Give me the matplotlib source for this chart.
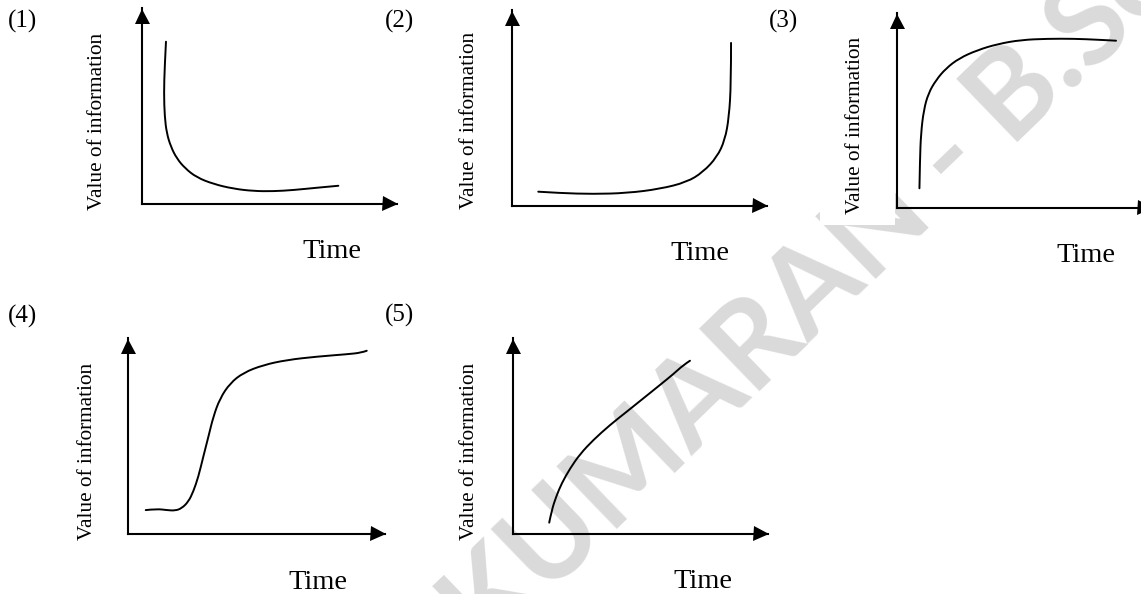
import matplotlib
matplotlib.use('Agg')
import matplotlib.pyplot as plt
from matplotlib.transforms import offset_copy
from matplotlib.patches import Rectangle, PathPatch
from matplotlib.path import Path

# ---------------- data (time, value) in % of axis length ----------------
panel_labels = ['(1)', '(2)', '(3)', '(4)', '(5)']
x_label = 'Time'
y_label = 'Value of information'
watermark_a = 'KUMARAN - B.'
watermark_b = 'Sc'

curve1_t = [9.4, 8.9, 8.6, 8.9, 9.7, 11.3, 13.6, 16.9, 21.4, 28.0, 35.8, 43.7, 51.5, 59.3, 68.5, 77.0]
curve1_v = [82.8, 70.1, 56.5, 44.6, 36.1, 29.3, 23.3, 18.2, 13.6, 10.2, 7.8, 6.6, 6.5, 7.1, 8.3, 9.3]

curve2_t = [10.3, 18.8, 31.8, 45.1, 58.0, 68.6, 74.9, 80.4, 83.5, 85.1, 85.9, 85.9]
curve2_v = [7.3, 6.6, 6.1, 6.6, 8.7, 12.2, 17.3, 25.0, 33.7, 45.4, 62.8, 83.2]

curve3_t = [8.8, 9.0, 9.4, 10.5, 12.3, 15.3, 19.2, 24.4, 31.6, 39.5, 48.6, 59.1, 69.5, 78.7, 85.9]
curve3_v = [10.1, 24.6, 38.3, 50.3, 58.8, 65.6, 71.6, 76.8, 81.0, 84.1, 86.2, 86.8, 86.8, 86.3, 85.8]

curve4_t = [6.9, 11.2, 15.1, 18.3, 20.9, 23.5, 25.4, 27.4, 29.3, 31.3, 33.2, 35.8, 39.7, 44.9,
            52.6, 61.8, 73.4, 85.1, 90.9, 92.9]
curve4_v = [12.2, 12.8, 12.2, 11.9, 13.1, 16.5, 21.6, 29.3, 39.5, 49.7, 59.9, 69.2, 76.9, 82.3,
            86.2, 88.8, 90.5, 91.7, 92.5, 93.5]

curve5_t = [14.2, 15.2, 16.9, 19.1, 22.4, 26.3, 31.5, 38.0, 44.6, 51.1, 57.6, 62.9, 66.8, 69.4]
curve5_v = [5.8, 12.2, 19.0, 25.9, 33.5, 40.8, 48.0, 55.6, 62.4, 69.2, 76.0, 81.6, 86.2, 88.4]

curves = [(curve1_t, curve1_v), (curve2_t, curve2_v), (curve3_t, curve3_v),
          (curve4_t, curve4_v), (curve5_t, curve5_v)]

# ---------------- layout (pixels, origin top-left) ----------------
W, H = 1141, 594
# corner x, corner y, x-arrow tip, y-arrow tip
axes_px = [(142, 204, 397, 8), (512, 206, 767, 10), (897, 208, 1152, 13),
           (128, 534, 385, 338), (513, 534, 768, 338)]
num_px = [(8, 28), (385, 28), (769, 28), (8, 323), (385, 322)]
time_px = [(302, 258), (670, 260), (1056, 262), (288, 589), (673, 588)]
ylab_px = [(98, 121), (470, 120), (855, 125), (87, 451), (470, 451)]

SERIF = ['Liberation Serif', 'DejaVu Serif']
fig = plt.figure(figsize=(W / 100, H / 100), dpi=100)
fig.patch.set_facecolor('white')


def fx(x):
    return x / W


def fy(y):
    return 1 - y / H


def smooth_path(t, v):
    """Quadratic B-spline style path with the read points as control points."""
    pts = list(zip(t, v))
    verts = [pts[0]]
    codes = [Path.MOVETO]
    for i in range(1, len(pts) - 1):
        if i < len(pts) - 2:
            end = ((pts[i][0] + pts[i + 1][0]) / 2, (pts[i][1] + pts[i + 1][1]) / 2)
        else:
            end = pts[i + 1]
        verts += [pts[i], end]
        codes += [Path.CURVE3, Path.CURVE3]
    return Path(verts, codes)


# watermark
wm_kw = dict(rotation=44, rotation_mode='anchor', va='baseline', fontsize=87,
             fontweight='bold', color='#dadada', family=['Lato', 'DejaVu Sans'], zorder=-10)
fig.text(fx(1089), fy(73), watermark_a, ha='right', **wm_kw)
fig.text(fx(1089), fy(73), watermark_b, ha='left', **wm_kw)

# white text-box behind the third y label
fig.patches.append(Rectangle((fx(820), fy(225)), 75 / W, 205 / H, transform=fig.transFigure,
                             facecolor='white', edgecolor='none', zorder=-5))

ARROW = 15  # px
for i, ((x0, y0, xt, yt), (t, v)) in enumerate(zip(axes_px, curves)):
    ax = fig.add_axes([fx(x0), fy(y0), (xt - x0) / W, (y0 - yt) / H])
    ax.set_xlim(0, 100)
    ax.set_ylim(0, 100)
    ax.set_facecolor('none')
    for s in ('top', 'right'):
        ax.spines[s].set_visible(False)
    for s in ('left', 'bottom'):
        ax.spines[s].set_linewidth(1.5)
        ax.spines[s].set_capstyle('projecting')
    ax.set_xticks([])
    ax.set_yticks([])
    ax.add_patch(PathPatch(smooth_path(t, v), facecolor='none', edgecolor='black', lw=1.4,
                           capstyle='round', clip_on=False))
    ax.plot([1], [0], marker='>', ms=ARROW * 0.72, color='black', mew=0, clip_on=False,
            transform=offset_copy(ax.transAxes, fig=fig, x=-ARROW / 2, y=0, units='dots'), zorder=5)
    ax.plot([0], [1], marker='^', ms=ARROW * 0.72, color='black', mew=0, clip_on=False,
            transform=offset_copy(ax.transAxes, fig=fig, x=0, y=-ARROW / 2, units='dots'), zorder=5)

    nx, ny = num_px[i]
    fig.text(fx(nx), fy(ny), panel_labels[i], ha='left', va='baseline', fontsize=18, family=SERIF)
    tx, ty = time_px[i]
    fig.text(fx(tx), fy(ty), x_label, ha='left', va='baseline', fontsize=20.5, family=SERIF)
    lx, ly = ylab_px[i]
    fig.text(fx(lx), fy(ly), y_label, rotation=90, ha='center', va='center', fontsize=15.3,
             family=SERIF)

fig.savefig('out.png', dpi=100, facecolor='white')
